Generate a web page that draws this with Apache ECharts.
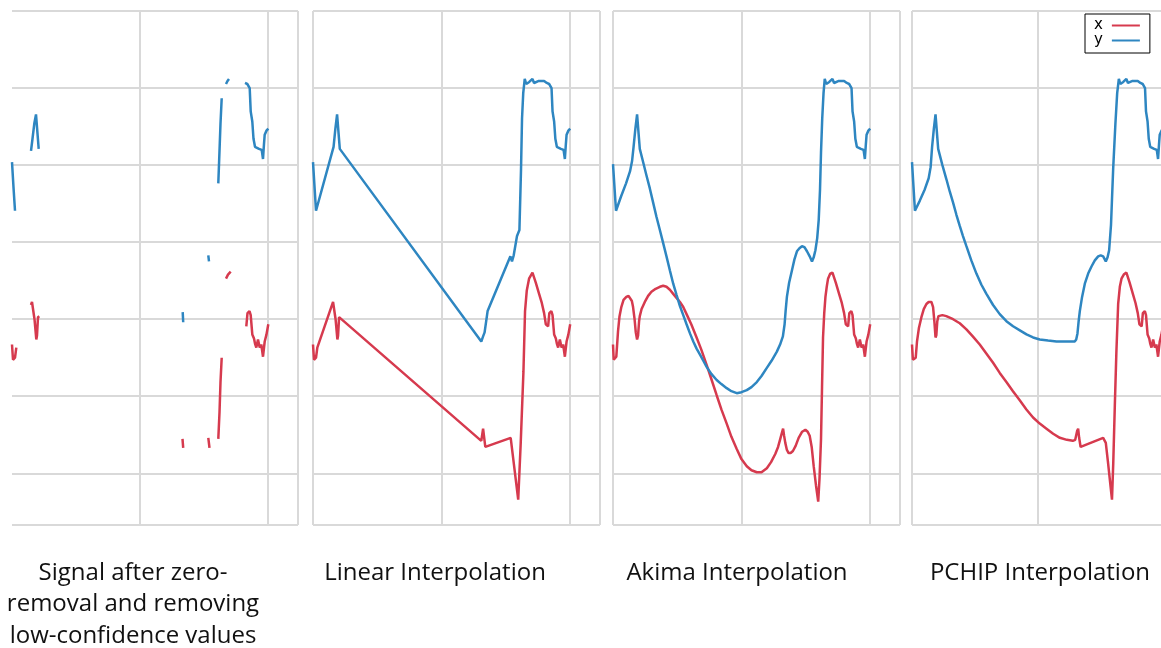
<!DOCTYPE html>
<html>
<head>
<meta charset="utf-8">
<script src="https://cdn.jsdelivr.net/npm/echarts@6/dist/echarts.min.js"></script>
<style>
  html, body { margin: 0; padding: 0; background: #ffffff; }
  #chart { width: 1161px; height: 648px; }
</style>
</head>
<body>
<div id="chart"></div>
<script>
// Keypoint track over frames: x = frame index, value = vertical position.
// "x" and "y" are the two coordinates of the tracked point.

// Observed samples after zero-removal and confidence filtering (null = gap)
const rawX = [[0,127],[1,112],[3,114],[4.3,124],[4.5,null],
  [19,166],[20,169],[22.5,152],[24.3,132],[25,136],[26,154],[27.3,155],[27.6,null],
  [170.5,34],[171.2,25],[171.5,null],
  [196.3,35],[197.5,25],[198,null],
  [206.3,34],[207.5,60],[208.5,90],[209.7,114],[210,null],
  [214,192],[216,196],[218.7,199],[219,null],
  [234.3,145],[235.5,158],[237.5,160],[238.7,156],[240.3,137],[242,133],[243,128],[244.3,124],[246,132],[247.7,124],[249.3,127],[251,115],[252.7,130],[254.5,137],[256.3,147]];

const rawY = [[0,307],[1.5,282],[3,259],[3.2,null],
  [19,318],[20.5,330],[22.3,345],[24,354],[25.5,335],[26.7,320],[27,null],
  [170.7,159],[171.2,149],[171.5,null],
  [196.3,215],[197,209],[197.5,null],
  [206.3,286],[207.5,318],[208.5,345],[209.7,370],[210,null],
  [214,384],[215.5,387],[217,389],[217.5,null],
  [233,385],[235.3,384],[237.7,380],[238.7,357],[240.3,347],[241.5,330],[243,322],[245,321],[247,320],[249.7,319],[251,310],[252,325],[252.7,334],[254.5,338],[256.3,340]];

// Section after the last long gap, identical for every interpolation
const tailX = [[218.7,198],[222,188],[225.3,177],[228,168],[230.3,158],[232,147],[234.3,145],[235.5,158],[237.5,160],[238.7,156],[240.3,137],[242,133],[243,128],[244.3,124],[246,132],[247.7,124],[249.3,127],[251,115],[252.7,130],[254.5,137],[256.3,147]];
const tailY = [[211,389],[212.5,384],[213.7,384],[215.5,386],[217,385],[218.7,389],[220.3,385],[225,387],[230.3,387],[233,385],[235.3,384],[237.7,380],[238.7,357],[240.3,347],[241.5,330],[243,322],[245,321],[247,320],[249.7,319],[251,310],[252,325],[252.7,334],[254.5,338],[256.3,340]];

// Linear interpolation
const linearX = [[0,127],[1,112],[3,114],[4.3,124],[20,169],[22.5,152],[24.3,132],[25,136],[26,154],[27.3,155],
  [167.7,32],[169.5,44],[171.7,26],[197,35],[204.5,-26],[207,30],[209.7,100],[211.3,160],[213,180],[215.3,192]];
const linearY = [[0,307],[3,259],[20.5,322],[22.3,340],[24,354],[25.5,335],[26.7,320],
  [167.7,130],[169.5,135],[171,139],[174,160],[196.7,214],[198.3,209],[200,215],[203.3,234],[205.7,240],[207.3,300],[208.3,350],[209.5,375]];

// Akima interpolation
const akimaX = [[0,127],[0.7,112],[3.3,115],[5,140],[6.5,155],[8.3,164],[10.5,171],[13.3,174],[15.5,175],[17.3,174],[18.8,170],[20,164],[21.5,152],[22.7,139],[24,132],[25,136],[26,150],[26.7,155],
  [28.5,162],[31.7,169],[35,175],[38.3,179],[42.5,182],[46.7,184],[50,185],[53.3,184],[56.7,181],[60,177],[63.3,173],[66.7,169],[70,164],[73.3,157],[78,147],[83.3,134],[88,122],[93.3,107],[98,93],[103.3,77],[108,63],[113.3,49],[118,36],[123.3,24],[128,14],[133.3,7],[138,3],[143.3,1],[148,1],[153.3,5],[157.5,11],[161.7,19],[164.5,26],[166.7,34],[168.3,40],[169.5,44],
  [170.5,37],[171.7,30],[173.3,23],[175,20],[177,20],[179.3,22],[182,27],[185,35],[188.5,41],[191.7,43],[194,41],[196,37],[198,26],[200,7],[202.3,-12],[204.5,-28],[205.8,-5],[207.3,34],[208.3,85],[209.3,134],[210.5,158],[211.7,174],[213,184],[214.3,192],[216.5,197]];
const akimaY = [[0,305],[3,259],[8,273],[13,286],[17,298],[19,308],[20.5,322],[22.3,340],[24,354],[25.5,335],[26.7,320],
  [30,307],[33.3,294],[36.7,281],[40,267],[43.3,253],[46.7,240],[50,227],[53.3,214],[56.7,200],[60,187],[63.3,176],[66.7,165],[70,156],[73.3,147],[76.7,138],[80,130],[83.3,123],[86.7,117],[90,111],[93.3,105],[98,98],[103.3,92],[108,88],[113.3,84],[118,81],[123.3,79],[128,80],[133.3,82],[138,85],[143.3,90],[148,96],[153.3,104],[158,111],[163.3,120],[166.5,127],[169.3,135],
  [171,147],[172,160],[173.3,174],[175.5,188],[178.3,200],[180.8,211],[183.3,219],[185.8,222],[188.3,224],[190.8,223],[193.3,219],[196,214],[198.3,209],[200,213],[201.7,220],[203.5,232],[205,250],[206.3,280],[207.3,317],[208.5,350],[209.8,375]];

// PCHIP interpolation
const pchipX = [[0,127],[0.9,112],[3.8,114],[5.1,130],[7,143],[9.6,154],[12,162],[14.7,167],[17,169],[19.8,169],[21.5,164],[22.8,150],[24,134],[24.8,136],[25.8,150],[27,155],
  [31,156],[35,155],[41.9,152],[48.7,148],[55.5,142],[62,135],[69.1,127],[76,118],[82.7,109],[89.5,99],[96.3,90],[103,81],[109.9,72],[116.7,63],[123.5,55],[130.3,49],[137.2,44],[144,39],[150.8,35],[158,33],[164,32],[166.5,33],[168.5,42],[169.5,44],
  [170.5,35],[172,26],[195,35],[197.7,30],[199.8,12],[202,-8],[204,-26],[205.3,10],[206.9,67],[208.5,120],[210.3,167],[212,184],[213.7,192],[216,196]];
const pchipY = [[0,307],[3,259],[8,269],[13,280],[17,291],[19,302],[20.5,322],[22.3,340],[24,354],[25.5,335],[26.7,320],
  [31,304],[35.1,290],[38.5,278],[41.9,267],[45.3,255],[48.7,244],[52,234],[55.5,224],[60.5,210],[65.7,197],[70.8,186],[75.9,177],[82.7,166],[89.5,157],[96.3,150],[103.1,145],[110,141],[116.8,137],[123.5,134],[130.3,132],[138.8,131],[147.4,130],[156.7,130],[166,130],
  [167.5,132],[168.8,138],[170,150],[171.2,160],[173.5,174],[176.3,187],[179.7,197],[183.1,204],[186.5,210],[189.9,214],[192.5,215],[195,214],[197.7,209],[199.5,213],[201.1,220],[203,245],[204,270],[205.2,300],[207.5,345],[209.3,375]];

const panelTitles = [
  'Signal after zero-\nremoval and removing\nlow-confidence values',
  'Linear Interpolation',
  'Akima Interpolation',
  'PCHIP Interpolation'
];

const panelSeries = [
  [rawX, rawY],
  [linearX.concat(tailX), linearY.concat(tailY)],
  [akimaX.concat(tailX), akimaY.concat(tailY)],
  [pchipX.concat(tailX), pchipY.concat(tailY)]
];

const RED = '#d63a4e';
const BLUE = '#2e86c1';
const GRID_LINE = { color: '#d9d9d9', width: 2 };

// Panel boxes in pixels; the last panel runs past the right edge of the canvas
const panels = [
  { left: 12,  width: 286, xMax: 286, minLine: false, maxLine: true,  titleX: 133 },
  { left: 313, width: 287, xMax: 286, minLine: true,  maxLine: true,  titleX: 435 },
  { left: 613, width: 287, xMax: 286, minLine: true,  maxLine: true,  titleX: 737 },
  { left: 912, width: 249, xMax: 254, minLine: true,  maxLine: false, titleX: 1040 }
];

const grid = [], xAxis = [], yAxis = [], series = [], title = [];
panels.forEach((p, i) => {
  grid.push({ left: p.left, top: 11, width: p.width, height: 514, show: false });
  xAxis.push({
    type: 'value', gridIndex: i, min: 0, max: p.xMax, interval: 128,
    axisLabel: { show: false }, axisTick: { show: false }, axisLine: { show: false },
    splitLine: { show: true, lineStyle: GRID_LINE, showMinLine: p.minLine, showMaxLine: p.maxLine }
  });
  yAxis.push({
    type: 'value', gridIndex: i, min: -51, max: 456, minInterval: 76, maxInterval: 76,
    axisLabel: { show: false }, axisTick: { show: false }, axisLine: { show: false },
    splitLine: { show: true, lineStyle: GRID_LINE, showMinLine: true, showMaxLine: true }
  });
  const [sx, sy] = panelSeries[i];
  series.push({
    name: 'x', type: 'line', xAxisIndex: i, yAxisIndex: i, data: sx,
    showSymbol: false, symbol: 'none', connectNulls: false,
    lineStyle: { color: RED, width: 2.5 }, itemStyle: { color: RED }
  });
  series.push({
    name: 'y', type: 'line', xAxisIndex: i, yAxisIndex: i, data: sy,
    showSymbol: false, symbol: 'none', connectNulls: false,
    lineStyle: { color: BLUE, width: 2.5 }, itemStyle: { color: BLUE }
  });
  title.push({
    text: panelTitles[i], left: p.titleX, top: 557, textAlign: 'center', padding: 0,
    textStyle: { fontFamily: 'Open Sans', fontSize: 24, fontWeight: 'normal', color: '#111111', lineHeight: 31.5 }
  });
});

const chart = echarts.init(document.getElementById('chart'), null, { renderer: 'canvas' });
chart.setOption({
  animation: false,
  backgroundColor: '#ffffff',
  title: title,
  grid: grid,
  xAxis: xAxis,
  yAxis: yAxis,
  legend: {
    data: ['x', 'y'],
    orient: 'vertical', align: 'right',
    left: 1085, top: 14,
    padding: [4, 10, 5, 9], itemGap: 0,
    itemWidth: 28, itemHeight: 2, icon: 'rect',
    selectedMode: false,
    borderColor: '#000000', borderWidth: 1, backgroundColor: '#ffffff',
    textStyle: { fontFamily: 'DejaVu Sans', fontSize: 15, lineHeight: 15, color: '#000000', padding: [0, 4, 0, 0] }
  },
  series: series
});
</script>
</body>
</html>
